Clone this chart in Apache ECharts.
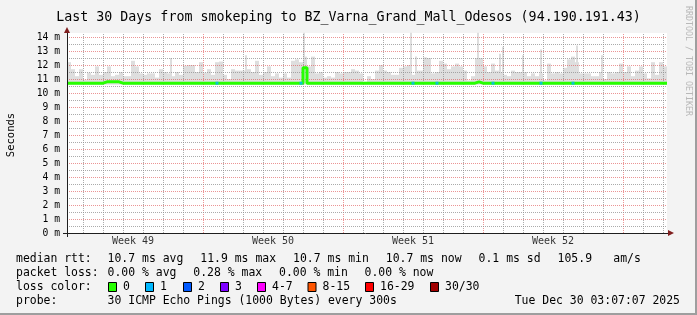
<!DOCTYPE html>
<html><head><meta charset="utf-8">
<script src="https://cdn.jsdelivr.net/npm/echarts@6/dist/echarts.min.js"></script>
<style>html,body{margin:0;padding:0;background:#f2f2f2}#c{width:697px;height:315px}</style>
</head><body><div id="c"></div>
<script>
// ---------------- data ----------------
const titleText = 'Last 30 Days from smokeping to BZ_Varna_Grand_Mall_Odesos (94.190.191.43)';
const yAxisName = 'Seconds';
const yTicks = [0,1,2,3,4,5,6,7,8,9,10,11,12,13,14];
const weekLabels = ['Week 49','Week 50','Week 51','Week 52'];
// smoke body top per 4.8h bin, ms
const smokeMax = [
 12.2,11.7,11.2,11.7,10.95,11.45,11.3,11.9,11.3,11.5,
 11.9,11.2,11.3,11.5,11.2,11.2,12.3,11.9,11.4,11.3,
 11.4,11.4,11.1,11.7,11.5,11.4,11.2,11.5,11.3,11.95,
 12.0,12.0,11.5,12.2,11.45,11.7,11.3,12.2,12.25,11.3,
 11.0,11.7,11.6,11.6,11.6,11.7,11.5,12.3,11.3,11.5,
 11.9,11.2,11.4,11.1,11.4,11.1,12.3,12.4,12.2,12.6,
 11.9,12.6,11.4,11.5,11.1,11.2,11.1,11.5,11.4,11.5,
 11.5,11.7,11.6,11.4,10.8,11.2,11.0,11.6,12.0,11.6,
 11.5,11.3,11.3,11.8,11.9,12.0,11.3,11.6,11.6,12.55,
 12.5,11.4,11.5,12.3,12.1,11.7,11.9,12.1,11.9,11.6,
 10.9,11.2,12.5,12.5,11.9,11.5,12.1,11.6,11.5,11.3,
 11.2,11.6,11.5,11.5,11.5,11.2,11.4,11.2,11.4,10.9,
 12.1,11.4,11.5,11.4,11.8,12.4,12.6,12.2,11.4,11.4,
 11.4,11.2,11.2,11.5,11.0,11.5,11.4,11.5,12.1,11.5,
 11.9,11.2,11.6,11.9,11.4,11.05,12.2,11.3,12.2,11.9
];
const smokeMin = 10.6;
// narrow high-ping spikes: [day, max ms]
const spikeDays = [5.2, 8.95, 11.85, 17.2, 17.45, 20.55, 21.65, 21.8, 22.8, 23.7, 25.5, 26.75];
const spikePeaks = [12.5, 12.7, 14.3, 14.3, 12.6, 14.3, 12.8, 13.3, 12.7, 13.1, 13.4, 12.7];
// median rtt per bin, ms
const median = [
 10.7,10.7,10.7,10.7,10.7,10.7,10.7,10.7,10.7,10.8,
 10.8,10.8,10.8,10.7,10.7,10.7,10.7,10.7,10.7,10.7,
 10.7,10.7,10.7,10.7,10.7,10.7,10.7,10.7,10.7,10.7,
 10.7,10.7,10.7,10.7,10.7,10.7,10.7,10.7,10.7,10.7,
 10.7,10.7,10.7,10.7,10.7,10.7,10.7,10.7,10.7,10.7,
 10.7,10.7,10.7,10.7,10.7,10.7,10.7,10.7,10.7,11.8,
 10.7,10.7,10.7,10.7,10.7,10.7,10.7,10.7,10.7,10.7,
 10.7,10.7,10.7,10.7,10.7,10.7,10.7,10.7,10.7,10.7,
 10.7,10.7,10.7,10.7,10.7,10.7,10.7,10.7,10.7,10.7,
 10.7,10.7,10.7,10.7,10.7,10.7,10.7,10.7,10.7,10.7,
 10.7,10.7,10.8,10.7,10.7,10.7,10.7,10.7,10.7,10.7,
 10.7,10.7,10.7,10.7,10.7,10.7,10.7,10.7,10.7,10.7,
 10.7,10.7,10.7,10.7,10.7,10.7,10.7,10.7,10.7,10.7,
 10.7,10.7,10.7,10.7,10.7,10.7,10.7,10.7,10.7,10.7,
 10.7,10.7,10.7,10.7,10.7,10.7,10.7,10.7,10.7,10.7
];
// bins that lost 1 of 30 pings
const lossOneBins = [37,58,86,92,106,118,126];
const rttStats = ['10.7 ms avg','11.9 ms max','10.7 ms min','10.7 ms now','0.1 ms sd','105.9','am/s'];
const lossStats = ['0.00 % avg','0.28 % max','0.00 % min','0.00 % now'];
const lossLegendLabels = ['0','1','2','3','4-7','8-15','16-29','30/30'];
const lossLegendColors = ['#26ff00','#00b8ff','#0059ff','#7e00ff','#ff00ff','#ff5500','#ff0000','#a00000'];
const probeText = '30 ICMP Echo Pings (1000 Bytes) every 300s';
const dateText = 'Tue Dec 30 03:07:07 2025';

// ---------------- layout ----------------
const MONO = 'DejaVu Sans Mono';
const LEG_FONT = '11.45px ' + MONO;
const DAYS = 30, PLOT_W = 600, PLOT_H = 200, YMAX = 100/7;
const BIN = DAYS / smokeMax.length;
const pxX = DAYS / PLOT_W, pxY = YMAX / PLOT_H;
const firstDayLine = 0.8;
const xc = i => (i + 0.5) * BIN;
const binCats = smokeMax.map((_, i) => 'b' + i);
const SMOKE = '#dedede';

const gridLines = [];
for (let k = 0; k < 30; k++) {
  const v = firstDayLine + k;
  if (v >= DAYS) break;
  const major = (k % 7) === 6;
  gridLines.push({xAxis: v + 0.5*pxX, lineStyle: {color: major ? 'rgba(222,79,79,0.6)' : 'rgba(143,143,143,0.75)', type: [1,1], width: 1}});
}
for (let m = 0; m <= 14; m++) {
  if (m > 0) gridLines.push({yAxis: m - 0.5*pxY, lineStyle: {color: 'rgba(222,79,79,0.6)', type: [1,1], width: 1}});
  if (m + 0.5 < YMAX) gridLines.push({yAxis: m + 0.5 - 0.5*pxY, lineStyle: {color: 'rgba(143,143,143,0.75)', type: [1,1], width: 1}});
}
const weekCenters = weekLabels.map((_, i) => firstDayLine - 1 + 3.5 + 7*i);

const medianLine = median.map((v, i) => [i*BIN, v]);
medianLine.push([DAYS, median[median.length-1]]);

const graphics = [];
graphics.push({type:'rect', shape:{x:0,y:0,width:697,height:315}, style:{fill:'#f3f3f3'}, z:-10, silent:true});
graphics.push({type:'rect', shape:{x:67,y:33,width:600,height:200}, style:{fill:'#ffffff'}, z:-9, silent:true});
graphics.push({type:'rect', shape:{x:695,y:0,width:2,height:315}, style:{fill:'#9e9e9e'}, z:-8});
graphics.push({type:'rect', shape:{x:0,y:313,width:697,height:2}, style:{fill:'#9e9e9e'}, z:-8});
graphics.push({type:'polygon', shape:{points:[[64,33],[70,33],[67,27]]}, style:{fill:'#801f1f'}, z:20});
graphics.push({type:'polygon', shape:{points:[[668,230],[668,236],[674,233]]}, style:{fill:'#801f1f'}, z:20});
graphics.push({type:'line', shape:{x1:63,y1:233.5,x2:668,y2:233.5}, style:{stroke:'#1f1f1f',lineWidth:1}, z:19});
graphics.push({type:'line', shape:{x1:67.5,y1:30,x2:67.5,y2:237}, style:{stroke:'#1f1f1f',lineWidth:1}, z:19});
graphics.push({type:'text', x:688, y:6, rotation:-Math.PI/2, style:{text:'RRDTOOL / TOBI OETIKER', fill:'#b8b8b8', font:'8.3px '+MONO, textAlign:'left', textVerticalAlign:'middle'}});
graphics.push({type:'text', x:11, y:135, rotation:Math.PI/2, style:{text:yAxisName, fill:'#000', font:'10.5px '+MONO, textAlign:'center', textVerticalAlign:'middle'}});
const T = (t, x, y, align) => graphics.push({type:'text', x, y, style:{text:t, fill:'#000', font:LEG_FONT, textVerticalAlign:'middle', textAlign:align || 'left'}});
T('median rtt:', 16, 259);
[107.6, 200.3, 293.1, 385.8, 478.6, 557.6, 613.3].forEach((x, i) => T(rttStats[i], x, 259));
T('packet loss:', 16, 273);
[107.6, 193.3, 279, 364.5].forEach((x, i) => T(lossStats[i], x, 273));
T('loss color:', 16, 287);
const boxX = [108, 145, 183, 220, 257, 307.5, 365, 430];
lossLegendLabels.forEach((l, i) => {
  graphics.push({type:'rect', shape:{x:boxX[i]+0.5, y:282.5, width:8, height:9}, style:{fill:lossLegendColors[i], stroke:'#000', lineWidth:1}});
  T(l, boxX[i] + 15, 287);
});
T('probe:', 16, 301);
T(probeText, 107.6, 301);
T(dateText, 680, 301, 'right');

const option = {
  animation: false,
  backgroundColor: '#f3f3f3',
  title: {text: titleText, left: 'center', top: 6, textStyle: {fontFamily: MONO, fontSize: 13.3, fontWeight: 'normal', color: '#000'}},
  grid: {left: 67, top: 33, width: PLOT_W, height: PLOT_H, containLabel: false, outerBoundsMode: 'none'},
  xAxis: [
    {type: 'value', min: 0, max: DAYS, show: false},
    {type: 'category', data: binCats, boundaryGap: true, show: false}
  ],
  yAxis: {type: 'value', min: 0, max: YMAX, interval: 1,
    axisLine: {show: false}, axisTick: {show: false}, splitLine: {show: false},
    axisLabel: {showMaxLabel: false, margin: 7, fontFamily: MONO, fontSize: 9.7, color: '#000',
      formatter: v => yTicks.includes(v) ? v + ' m' : ''}},
  graphic: graphics,
  series: [
    {type: 'bar', name: 'base', xAxisIndex: 1, stack: 's', barCategoryGap: 0, z: 1, silent: true,
     itemStyle: {color: 'rgba(0,0,0,0)'},
     data: smokeMax.map(() => smokeMin)},
    {type: 'bar', name: 'smoke', xAxisIndex: 1, stack: 's', barCategoryGap: 0, z: 2, silent: true,
     itemStyle: {color: SMOKE},
     data: smokeMax.map(v => +(v - smokeMin).toFixed(3))},
    {type: 'custom', name: 'spikes', xAxisIndex: 0, z: 2, silent: true,
     data: spikeDays.map((d, i) => [d, spikePeaks[i]]),
     renderItem: (params, api) => {
       const top = api.coord([api.value(0), api.value(1)]);
       const bot = api.coord([api.value(0), smokeMin]);
       return {type: 'rect', shape: {x: Math.round(top[0]) - 1, y: top[1], width: 2, height: bot[1] - top[1]}, style: {fill: SMOKE}};
     }},
    {type: 'line', name: 'grid', xAxisIndex: 0, data: [], z: 3, silent: true,
     markLine: {silent: true, symbol: ['none','none'], label: {show: false}, animation: false, data: gridLines}},
    {type: 'line', name: 'median', xAxisIndex: 0, step: 'end', showSymbol: false, z: 5, silent: true,
     lineStyle: {color: '#26ff00', width: 3}, data: medianLine},
    {type: 'scatter', name: 'loss1', xAxisIndex: 0, symbol: 'rect', symbolSize: [3, 3], z: 6, silent: true,
     itemStyle: {color: lossLegendColors[1]},
     data: lossOneBins.map(i => [xc(i), median[i]])},
    {type: 'scatter', name: 'weeks', xAxisIndex: 0, symbolSize: 0, z: 6, silent: true, clip: false,
     label: {show: true, position: 'bottom', distance: 3, formatter: p => p.data[2], fontFamily: MONO, fontSize: 10, color: '#000'},
     data: weekCenters.map((c, i) => [c, 0, weekLabels[i]])}
  ]
};
echarts.init(document.getElementById('c')).setOption(option);
</script></body></html>
